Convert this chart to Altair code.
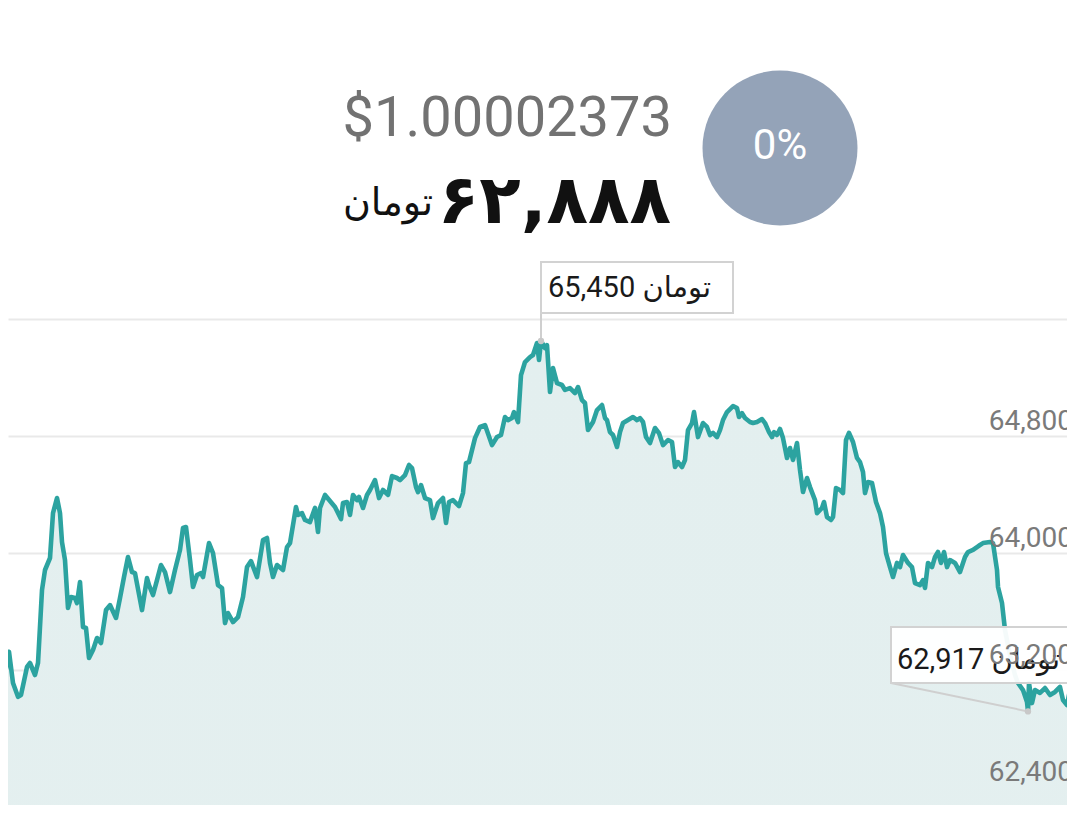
import altair as alt
import pandas as pd

# time index (sample number) and price in toman
t = [0,4,9,13,18,21,27,30,35,38,42,45,50,53,57,60,62,65,68,71,75,77,80,83,86,89,93,97,101,106,110,116,120,124,128,132,135,142,147,149,153,157,161,165,170,175,180,183,186,190,193,197,201,203,209,213,218,222,225,228,233,238,243,247,251,257,263,267,270,273,277,283,287,290,296,298,302,305,310,315,318,320,325,335,341,343,347,350,353,357,359,363,367,370,375,379,383,388,392,397,400,405,409,412,416,418,421,425,430,433,438,443,446,449,453,459,463,466,469,475,480,485,492,497,501,505,508,512,514,518,521,525,530,533,537,539,541,545,547,550,553,557,562,565,570,575,578,582,585,588,593,597,602,605,607,610,613,617,620,623,628,633,637,640,643,646,650,655,659,663,668,672,675,678,682,685,688,692,694,698,703,707,710,713,717,720,723,727,733,737,739,742,745,750,753,757,762,765,769,772,774,777,780,783,787,790,793,797,800,803,807,810,815,817,822,824,827,831,833,836,840,843,846,849,853,857,860,863,865,868,872,876,880,883,886,890,893,897,900,903,908,912,915,920,923,925,928,932,935,938,941,944,947,950,955,960,965,968,973,977,980,983,990,993,997,998,1002,1005,1010,1015,1018,1023,1027,1028,1029,1032,1035,1040,1045,1050,1055,1060,1063,1067,1070,1073,1075]
price = [63120,63132,63325,63111,63017,63029,63221,63248,63166,63248,63747,63884,63966,64273,64376,64273,64075,63952,63624,63699,63692,63658,63802,63494,63487,63282,63337,63419,63385,63610,63644,63556,63692,63836,63973,63870,63863,63610,63829,63781,63713,63815,63918,63870,63733,63884,64021,64171,64178,63952,63768,63850,63863,63836,64068,64000,63781,63761,63521,63590,63528,63562,63699,63904,63945,63836,64089,64103,63932,63836,63918,63884,64041,64068,64315,64260,64273,64226,64212,64308,64144,64308,64397,64315,64232,64342,64349,64260,64397,64362,64383,64308,64397,64431,64499,64376,64431,64397,64526,64513,64499,64533,64602,64581,64451,64417,64465,64376,64362,64239,64342,64376,64205,64349,64362,64321,64410,64615,64622,64786,64862,64875,64738,64793,64807,64930,64909,64923,64964,64896,65217,65306,65340,65354,65436,65320,65450,65402,65422,65101,65265,65162,65149,65115,65128,65094,65135,65046,65026,64841,64896,64978,65012,64923,64909,64827,64807,64725,64827,64889,64909,64930,64909,64923,64896,64793,64752,64855,64820,64738,64773,64759,64588,64622,64588,64636,64841,64889,64964,64793,64889,64862,64807,64821,64793,64841,64909,64964,65005,64991,64930,64957,64923,64896,64889,64896,64916,64889,64827,64793,64827,64807,64848,64786,64650,64718,64636,64752,64568,64417,64513,64451,64362,64273,64308,64349,64246,64226,64246,64444,64431,64410,64773,64821,64759,64650,64622,64554,64410,64485,64479,64349,64273,64178,64000,63904,63836,63932,63904,63986,63932,63904,63795,63781,63815,63761,63932,63904,63973,64007,63932,64007,63904,63952,63932,63870,63973,64007,64021,64041,64055,64068,64075,64068,63884,63768,63658,63474,63303,63166,63111,63063,62981,62917,63111,62974,63063,63043,63077,63029,63050,63084,62995,62961,63063,63132,63159]

grid_vals = [62400, 63200, 64000, 64800, 65600]
tick_vals = [62400, 63200, 64000, 64800]
tick_labels = ["62,400", "63,200", "64,000", "64,800"]

usd_price = "$1.00002373"
toman_price = "۶۲,۸۸۸"
unit = "تومان"
change = "0%"

peak_t, peak_v, peak_label = [541], [65450], ["65,450 تومان"]
low_t, low_v, low_label = [1028], [62917], ["62,917 تومان"]

df = pd.DataFrame({"t": t, "price": price})
peak = pd.DataFrame({"t": peak_t, "price": peak_v, "label": peak_label})
low = pd.DataFrame({"t": low_t, "price": low_v, "label": low_label})
ticks = pd.DataFrame({"price": tick_vals, "label": tick_labels})
one = pd.DataFrame({"k": [0]})

TEAL = "#2ca3a0"
W, H = 1059, 797

xs = alt.Scale(domain=[8, 1067], nice=False, zero=False)
ys = alt.Scale(domain=[62277, 67727], nice=False, zero=False)
x_enc = alt.X("t:Q", scale=xs, axis=None)
y_enc = alt.Y("price:Q", scale=ys,
              axis=alt.Axis(values=grid_vals, grid=True, gridColor="#e9e9e9", gridWidth=2,
                            labels=False, ticks=False, domain=False, title=None))

grad = alt.Gradient(gradient="linear",
                    stops=[alt.GradientStop(color="#e3efef", offset=0),
                           alt.GradientStop(color="#ecf2f2", offset=0.5),
                           alt.GradientStop(color="#f9f9f9", offset=1)],
                    x1=1, x2=1, y1=0, y2=1)

area = alt.Chart(df).mark_area(clip=True, color=grad).encode(x=x_enc, y=y_enc)
line = alt.Chart(df).mark_line(clip=True, color=TEAL, strokeWidth=4.6,
                               strokeJoin="round", strokeCap="round").encode(x=x_enc, y=y_enc)

peak_rule = alt.Chart(peak).mark_rule(color="#cfcfcf", strokeWidth=2).encode(
    x=x_enc, y=y_enc, y2=alt.value(254))
peak_box = alt.Chart(peak).mark_rect(fill="white", fillOpacity=0.95, stroke="#d2d2d2", strokeWidth=2).encode(
    x=alt.value(533), x2=alt.value(725), y=alt.value(254), y2=alt.value(305))
peak_text = alt.Chart(peak).mark_text(align="left", baseline="alphabetic", fontSize=29,
                                      font="Roboto, DejaVu Sans", color="#1a1a1a").encode(
    x=alt.value(540), y=alt.value(289), text="label:N")

low_rule = alt.Chart(low).mark_rule(color="#cfcfcf", strokeWidth=2).encode(
    x=x_enc, y=y_enc, x2=alt.value(883), y2=alt.value(675))
low_box = alt.Chart(low).mark_rect(fill="white", fillOpacity=0.95, stroke="#d2d2d2", strokeWidth=2).encode(
    x=alt.value(883), x2=alt.value(1080), y=alt.value(619), y2=alt.value(675))
low_text = alt.Chart(low).mark_text(align="left", baseline="alphabetic", fontSize=29,
                                    font="Roboto, DejaVu Sans", color="#1a1a1a").encode(
    x=alt.value(889), y=alt.value(661), text="label:N")

dots = alt.Chart(pd.concat([peak, low])).mark_point(filled=True, color="#c8c8c8", size=40, opacity=1).encode(
    x=x_enc, y=y_enc)

tick_text = alt.Chart(ticks).mark_text(align="right", baseline="alphabetic", dy=-6, fontSize=28,
                                       font="Roboto", color="#7a7a7a").encode(
    x=alt.value(1065), y=y_enc, text="label:N")

usd_text = alt.Chart(one).mark_text(align="right", baseline="alphabetic", fontSize=56,
                                    font="Roboto", color="#727272").encode(
    x=alt.value(664), y=alt.value(128), text=alt.value(usd_price))
toman_text = alt.Chart(one).mark_text(align="right", baseline="alphabetic", fontSize=68, fontWeight="bold",
                                      font="DejaVu Sans", color="#111111").encode(
    x=alt.value(663), y=alt.value(215), text=alt.value(toman_price))
unit_text = alt.Chart(one).mark_text(align="right", baseline="alphabetic", fontSize=38,
                                     font="DejaVu Sans", color="#111111").encode(
    x=alt.value(425), y=alt.value(207), text=alt.value(unit))
circle = alt.Chart(one).mark_circle(color="#94a3b8", opacity=1, size=24025).encode(
    x=alt.value(772), y=alt.value(140))
pct_text = alt.Chart(one).mark_text(align="center", baseline="middle", fontSize=42,
                                    font="Roboto", color="white").encode(
    x=alt.value(772), y=alt.value(138), text=alt.value(change))

chart = alt.layer(
    area, line, peak_rule, peak_box, peak_text, low_rule, low_box, low_text, dots, tick_text,
    usd_text, toman_text, unit_text, circle, pct_text
).properties(
    width=W, height=H, autosize="none", padding=0, background="white"
).configure_view(stroke=None)

chart.save("out.html", embed_options={"renderer": "svg", "actions": False})
